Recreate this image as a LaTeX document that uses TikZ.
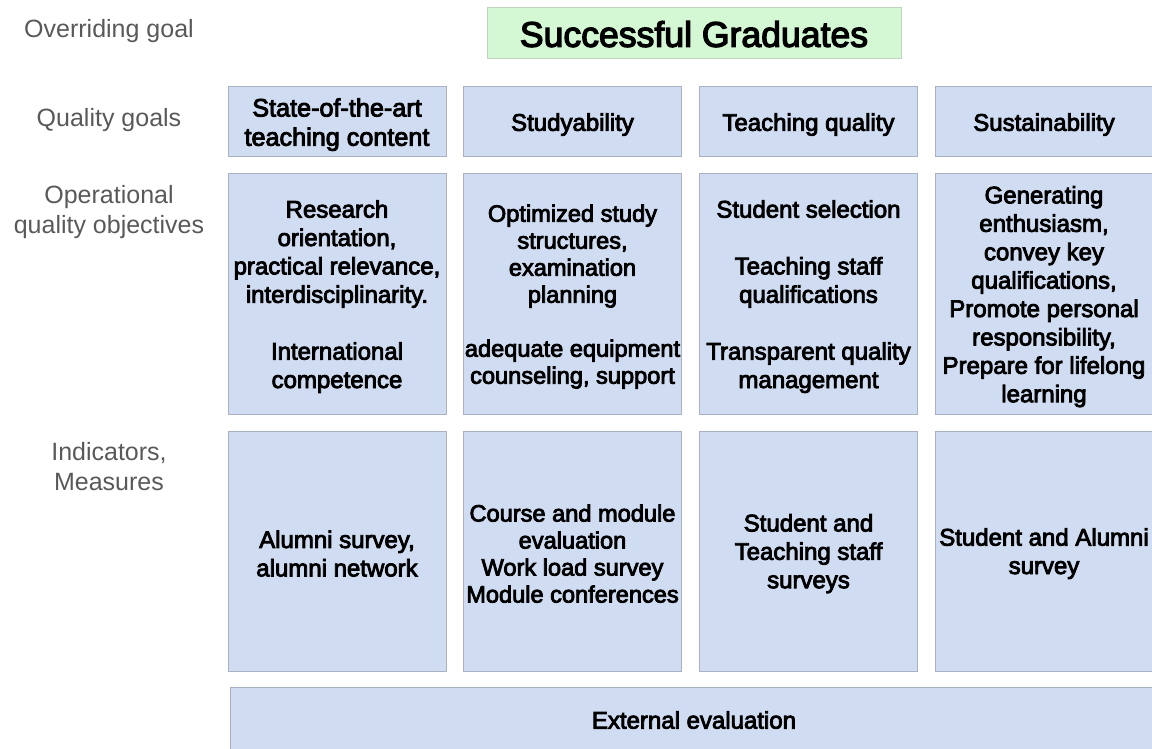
\documentclass[tikz,border=0pt]{standalone}
\usepackage{fontspec}
\setmainfont{Liberation Sans}
\newfontfamily\boxfont{Liberation Sans}[FakeBold=3.5]
\definecolor{boxfill}{HTML}{D0DCF2}
\definecolor{boxline}{HTML}{A9B1C2}
\definecolor{goalfill}{HTML}{D4F7D4}
\definecolor{goalline}{HTML}{BFD3BF}
\definecolor{labelgray}{HTML}{595959}
\tikzset{
  cell/.style={draw=boxline, fill=boxfill, line width=0.5pt, inner sep=0pt},
  ctext/.style={align=center, inner sep=0pt, text=black, yshift=-1.3pt,
    font=\boxfont\fontsize{12}{14.2}\selectfont},
  ctight/.style={ctext, font=\boxfont\fontsize{11.8}{13.5}\selectfont},
  colw/.style={minimum width=109pt},
  smallrow/.style={minimum height=35pt},
  bigrow/.style={minimum height=120pt},
  rowlabel/.style={align=center, text=labelgray, inner sep=0pt,
    font=\fontsize{12.5}{15}\selectfont},
  goal/.style={draw=goalline, fill=goalfill, line width=0.5pt, inner sep=0pt,
    minimum width=207pt, minimum height=25.5pt}
}
\begin{document}
\begin{tikzpicture}[x=0.5pt,y=-0.5pt]
\useasboundingbox (0,0) rectangle (1152,749);
% row labels
\node[rowlabel] (l1) at (109,31) {Overriding goal};
\node[rowlabel] (l2) at (109,120) {Quality goals};
\node[rowlabel] (l3) at (109,212) {Operational\\quality objectives};
\node[rowlabel] (l4) at (109,467) {Indicators,\\Measures};
% overriding goal
\node[goal, label={[ctext, font=\boxfont\fontsize{17.8}{20}\selectfont, yshift=1.0pt]center:Successful Graduates}] (g) at (694,33.5) {};
% quality goals
\node[cell,colw,smallrow, label={[ctext, font=\boxfont\fontsize{12.6}{14.6}\selectfont]center:{State-of-the-art\\teaching content}}] (q1) at (337,122) {};
\node[cell,colw,smallrow, label={[ctext]center:Studyability}] (q2) at (572.5,122) {};
\node[cell,colw,smallrow, label={[ctext]center:Teaching quality}] (q3) at (808.5,122) {};
\node[cell,colw,smallrow, label={[ctext]center:Sustainability}] (q4) at (1044,122) {};
% operational objectives
\node[cell,colw,bigrow, label={[ctext]center:{Research\\orientation,\\practical relevance,\\interdisciplinarity.\\[14.2pt]International\\competence}}] (o1) at (337,294) {};
\node[cell,colw,bigrow, label={[ctight]center:{Optimized study\\structures,\\examination\\planning\\[13.5pt]adequate equipment\\counseling, support}}] (o2) at (572.5,294) {};
\node[cell,colw,bigrow, label={[ctext]center:{Student selection\\[14.2pt]Teaching staff\\qualifications\\[14.2pt]Transparent quality\\management}}] (o3) at (808.5,294) {};
\node[cell,colw,bigrow, label={[ctext]center:{Generating\\enthusiasm,\\convey key\\qualifications,\\Promote personal\\responsibility,\\Prepare for lifelong\\learning}}] (o4) at (1044,294) {};
% indicators
\node[cell,colw,bigrow, label={[ctext]center:{Alumni survey,\\alumni network}}] (i1) at (337,551) {};
\node[cell,colw,bigrow, label={[ctight]center:{Course and module\\evaluation\\Work load survey\\Module conferences}}] (i2) at (572.5,551) {};
\node[cell,colw,bigrow, label={[ctext]center:{Student and\\Teaching staff\\surveys}}] (i3) at (808.5,551) {};
\node[cell,colw,bigrow, label={[ctext]center:{Student and Alumni\\survey}}] (i4) at (1044,551) {};
% external evaluation
\node[cell,minimum width=465pt,minimum height=36.5pt, label={[ctext,xshift=-0.5pt,yshift=3.05pt]center:External evaluation}] (ext) at (695,723.5) {};
\end{tikzpicture}
\end{document}
